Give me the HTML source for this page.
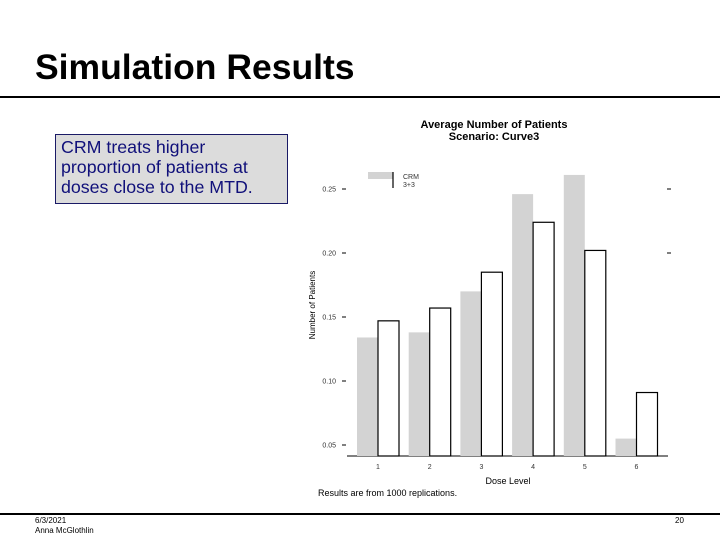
<!DOCTYPE html>
<html><head><meta charset="utf-8"><style>
body{margin:0;width:720px;height:540px;background:#fff;overflow:hidden;font-family:"Liberation Sans",sans-serif;position:relative}
.abs{position:absolute}
</style></head><body>
<div class="abs" style="left:35px;top:47px;font-size:35.5px;font-weight:bold;color:#000">Simulation Results</div>
<div class="abs" style="left:0;top:96px;width:720px;height:2px;background:#000"></div>
<div class="abs" style="left:55px;top:134px;width:231px;height:68px;background:#dcdcdc;border:1px solid #1a1a66;"></div>
<div class="abs" style="left:61px;top:137px;font-size:17.8px;line-height:20px;color:#10107a;white-space:nowrap">CRM treats higher<br>proportion of patients at<br>doses close to the MTD.</div>
<svg class="abs" style="left:0;top:0" width="720" height="540">
<text x="494" y="128" font-size="11" font-weight="bold" text-anchor="middle">Average Number of Patients</text>
<text x="494" y="140" font-size="11" font-weight="bold" text-anchor="middle">Scenario: Curve3</text>
<g id="axes"></g><g id="bars"></g>
<rect x="368" y="172" width="25" height="7" fill="#d3d3d3"/>
<line x1="393" y1="172" x2="393" y2="188" stroke="#000" stroke-width="1.2"/>
<text x="403" y="179" font-size="7" fill="#333">CRM</text>
<text x="403" y="187" font-size="7" fill="#333">3+3</text>
<text x="508" y="484" font-size="9" text-anchor="middle">Dose Level</text>
<text x="318" y="496" font-size="9">Results are from 1000 replications.</text>
<text x="315" y="305" font-size="8" text-anchor="middle" transform="rotate(-90 315 305)">Number of Patients</text>
</svg>
<div class="abs" style="left:0;top:513px;width:720px;height:2px;background:#000"></div>
<div class="abs" style="left:35px;top:516px;font-size:8px;line-height:10px">6/3/2021<br>Anna McGlothlin</div>
<div class="abs" style="left:675px;top:516px;font-size:8px">20</div>
<script>
const categories=["1","2","3","4","5","6"];
const crmValues=[0.134,0.138,0.170,0.246,0.261,0.055];
const threeValues=[0.147,0.157,0.185,0.224,0.202,0.091];
const yTicks=[0.05,0.10,0.15,0.20,0.25];
const yTickLabels=["0.05","0.10","0.15","0.20","0.25"];
const NS="http://www.w3.org/2000/svg";
const y=v=>445-(v-0.05)*1280;
const x=i=>378+i*51.7;
const base=456, bw=21;
function mk(t,a,p){const e=document.createElementNS(NS,t);for(const k in a)e.setAttribute(k,a[k]);p.appendChild(e);return e;}
const ax=document.getElementById('axes'), bars=document.getElementById('bars');
const bl=mk('line',{x1:347,y1:base,x2:668,y2:base,stroke:'#000'},ax);


yTicks.forEach((v,i)=>{
 const t=mk('line',{x1:342,x2:346,y1:y(v),y2:y(v),stroke:'#000'},ax);
 
 
 const l=mk('text',{x:336,y:y(v)+2.5,'font-size':7,'text-anchor':'end',fill:'#333'},ax);
 l.textContent=yTickLabels[i];
 
 
 if(v>=0.2){const r=mk('line',{x1:667,x2:671,y1:y(v),y2:y(v),stroke:'#000'},ax);
 
 }
});
categories.forEach((c,i)=>{
 const g=mk('rect',{x:x(i)-bw,y:y(crmValues[i]),width:bw,height:base-y(crmValues[i]),fill:'#d3d3d3'},bars);
 
 
 const w=mk('rect',{x:x(i),y:y(threeValues[i]),width:bw,height:base-y(threeValues[i]),fill:'#fff',stroke:'#000','stroke-width':1.2},bars);
 
 
 const l=mk('text',{x:x(i),y:469,'font-size':7,'text-anchor':'middle',fill:'#333'},ax);
 l.textContent=c;
 
 
});
</script>
</body></html>
